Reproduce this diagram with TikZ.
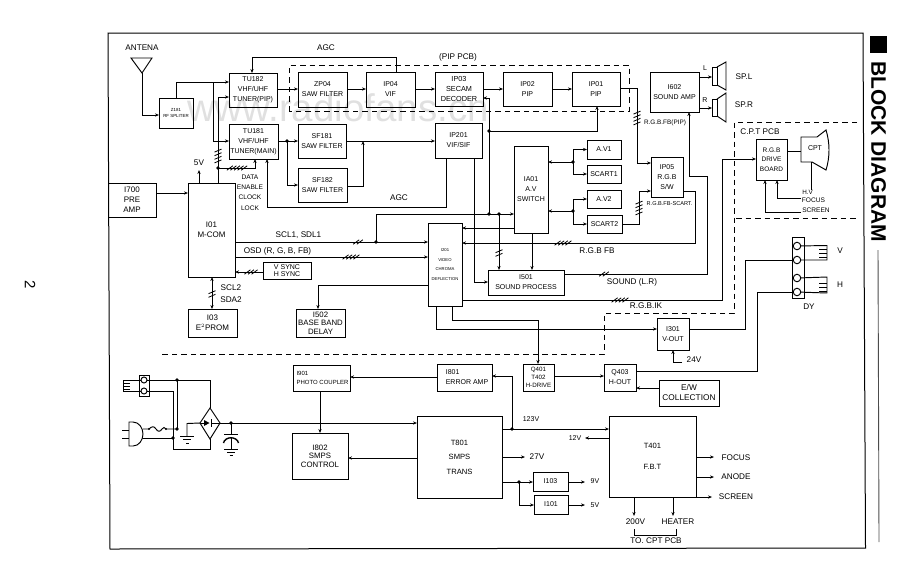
\documentclass[tikz,border=0pt]{standalone}
\usepackage{fontspec}
\setmainfont{Liberation Sans}
\usetikzlibrary{arrows.meta,calc}
\tikzset{
  wire/.style={line width=0.95pt,line join=miter},
  arr/.style={wire,-{Stealth[length=4pt,width=3.2pt]}},
  arrb/.style={wire,{Stealth[length=4pt,width=3.2pt]}-{Stealth[length=4pt,width=3.2pt]}},
  dashline/.style={line width=1pt,dash pattern=on 5.5pt off 4pt},
  tinytxt/.style={font=\fontsize{7}{10}\selectfont,align=center,inner sep=0pt,outer sep=0pt},
  lab/.style={tinytxt,font=\fontsize{8.2}{10}\selectfont},
  block/.style={draw,line width=1pt,tinytxt,inner sep=0pt,outer sep=0pt},
  bigblock/.style={font=\fontsize{8}{10}\selectfont},
  pin/.style={circle,draw,line width=0.95pt,minimum size=7.5pt,inner sep=0pt,outer sep=0pt},
  junct/.style={circle,fill,inner sep=0pt,minimum size=3.8pt}
}
% box given by its corners: name, x1, y1, x2, y2, options, text
\newcommand\blk[7][]{%
  \pgfmathsetmacro\bw{#4-#2}\pgfmathsetmacro\bh{#5-#3}%
  \pgfmathsetmacro\bx{(#4+#2)/2}\pgfmathsetmacro\by{(#5+#3)/2}%
  \node[block,minimum width=\bw pt,minimum height=\bh pt,#1] (#6) at (\bx,\by) {#7};}
% bus ticks across a horizontal or a vertical wire
\newcommand\hticks[3]{\foreach \i in {1,...,#3}{%
  \pgfmathsetmacro\tx{#1+(\i-(#3+1)/2)*3.6}%
  \draw[line width=0.8pt] (\tx-3,#2+2.2) -- (\tx+3,#2-2.2);}}
\newcommand\vticks[3]{\foreach \i in {1,...,#3}{%
  \pgfmathsetmacro\ty{#2+(\i-(#3+1)/2)*3.6}%
  \draw[line width=0.8pt] (#1-3.5,\ty+1.5) -- (#1+3.5,\ty-1.5);}}
\begin{document}
\begin{tikzpicture}[x=1pt,y=-1pt]
\useasboundingbox (0,0) rectangle (920,582);

% site stamp, lying behind the drawing
\node[font=\fontsize{38.5}{38.5}\selectfont,text=black!12,inner sep=0pt] (stamp) at (338,108) {www.radiofans.cn};

% sheet frame and heading
\draw[line width=1pt] (108,33) -- (863,33) -- (865.5,548) -- (110,549) -- cycle;
\fill (870,36) rectangle (887,53);
\node[rotate=-90,font=\bfseries\fontsize{21}{21}\selectfont,inner sep=0pt] (title) at (878.5,151.5) {BLOCK DIAGRAM};
\coordinate (ruleA) at (878,250);
\coordinate (ruleB) at (879,542);
\draw[line width=0.9pt,black!70] (ruleA) -- (ruleB);
\node[rotate=-90,font=\fontsize{15}{15}\selectfont,inner sep=0pt] (pageno) at (30,285) {2};

% board outlines
\draw[dashline] (289,111) -- (289,65) -- (629,65) -- (629,111) -- cycle;
\draw[dashline] (857,122) -- (734,122) -- (734,313) -- (604,313) -- (604,354) -- (162,354);
\draw[dashline] (736,218) -- (857,218);

% blocks of the signal section
\blk[font=\fontsize{4.4}{6.5}\selectfont]{159}{98}{193}{128}{z181}{Z181\\RF SPLITER}
\blk{229}{73}{277}{107}{tu182}{TU182\\VHF/UHF\\TUNER(PIP)}
\blk{229}{124}{278}{159}{tu181}{TU181\\VHF/UHF\\TUNER(MAIN)}
\blk{298}{72}{347}{107}{zp04}{ZP04\\SAW FILTER}
\blk{366}{72}{415}{107}{ip04}{IP04\\VIF}
\blk[font=\fontsize{7.3}{10}\selectfont]{435}{72}{483}{106}{ip03}{IP03\\SECAM\\DECODER}
\blk{503}{72}{552}{106}{ip02}{IP02\\PIP}
\blk{572}{72}{620}{106}{ip01}{IP01\\PIP}
\blk{298}{124}{346}{158}{sf181}{SF181\\SAW FILTER}
\blk{298}{168}{347}{202}{sf182}{SF182\\SAW FILTER}
\blk{435}{123}{482}{158}{ip201}{IP201\\VIF/SIF}
\blk{514}{146}{548}{233}{ia01}{IA01\\A.V\\SWITCH}
\blk{587}{140}{621}{159}{av1}{A.V1}
\blk{587}{165}{621}{183}{scart1}{SCART1}
\blk{587}{190}{621}{208}{av2}{A.V2}
\blk{587}{215}{622}{233}{scart2}{SCART2}
\blk{651}{157}{683}{197}{ip05}{IP05\\R.G.B\\S/W}
\blk{650}{72}{699}{112}{i602}{I602\\SOUND AMP}
\blk[bigblock]{108}{183}{156}{217}{i700}{I700\\PRE\\AMP}
\blk[bigblock]{188}{183}{235}{277}{i01}{I01\\M-COM}
\blk[font=\fontsize{7}{7}\selectfont]{263}{262}{311}{279}{sync}{V SYNC\\H SYNC}
\blk[bigblock]{188}{309}{237}{337}{i03}{I03\\E$^{\scriptscriptstyle 2}$PROM}
\blk[font=\fontsize{7.8}{8.5}\selectfont]{296}{309}{345}{337}{i502}{I502\\BASE BAND\\DELAY}
\blk[font=\fontsize{4.2}{9.5}\selectfont]{428}{223}{462}{306}{i201}{I201\\VIDEO\\CHROMA\\DEFLECTION}
\blk{488}{270}{564}{295}{i501}{I501\\SOUND PROCESS}
\blk[font=\fontsize{6.5}{9.5}\selectfont]{756}{139}{787}{180}{rgbd}{R.G.B\\DRIVE\\BOARD}
\blk{657}{318}{689}{350}{i301}{I301\\V-OUT}
\blk[font=\fontsize{6.2}{8}\selectfont]{523}{364}{554}{391}{q401}{Q401\\T402\\H-DRIVE}
\blk{604}{364}{636}{391}{q403}{Q403\\H-OUT}
\blk[font=\fontsize{8.3}{10}\selectfont]{659}{380}{719}{406}{ew}{E/W\\COLLECTION}

% blocks of the power section
\blk[align=left,font=\fontsize{6}{9.5}\selectfont]{293}{365}{350}{391}{i901}{\hspace*{2pt}I901\\\hspace*{2pt}PHOTO COUPLER}
\blk[align=left]{437}{364}{492}{391}{i801}{\hspace*{5pt}I801\\\hspace*{5pt}ERROR AMP}
\blk[font=\fontsize{7.8}{8.5}\selectfont]{292}{433}{348}{479}{i802}{I802\\SMPS\\CONTROL}
\blk[font=\fontsize{7.6}{14.5}\selectfont]{417}{416}{502}{498}{t801}{T801\\SMPS\\TRANS}
\blk[font=\fontsize{7.6}{21}\selectfont]{609}{416}{696}{497}{t401}{T401\\F.B.T}
\blk{533}{472}{568}{491}{i103}{I103}
\blk{534}{495}{568}{514}{i101}{I101}

% aerial
\coordinate (antfoot) at (142,73);
\draw[wire] (131,58) -- (152,58) -- (antfoot) -- cycle;
\node[lab] (antlabel) at (142,48) {ANTENA};
\draw[arr] (antfoot) |- (z181.west |- 0,115);

% tuner feeds
\coordinate (feedA) at (213,82);
\coordinate (busdot) at (218,168);
\draw[arr] (z181.north) |- (tu182.west |- feedA);
\draw[arr] (feedA) |- (tu181.west |- 0,141);
\draw[wire] (i01.north -| busdot) -- (busdot);
\draw[arr] (busdot) |- (tu182.west |- 0,97);
\draw[arr] (busdot) -| (tu181.south -| 255,0);
\node[junct] (busdotn) at (busdot) {};
\vticks{218}{156}{4}
\hticks{237}{168}{5}
\coordinate (fivev) at (199,170);
\draw[arr] (i01.north -| fivev) -- (fivev);
\node[lab] (l5v) at (199,163) {5V};
\node[tinytxt,font=\fontsize{6.6}{10.2}\selectfont] (ldata) at (250,192.5) {DATA\\ENABLE\\CLOCK\\LOCK};

% top AGC line
\node[lab] (agctop) at (326,48) {AGC};
\draw[arr] (ip04.north -| 396,0) |- (252,57) -- (tu182.north -| 252,0);

% PIP chain
\draw[arr] (tu182.east |- 0,89) -- (zp04.west |- 0,89);
\draw[arr] (zp04.east |- 0,89) -- (ip04.west |- 0,89);
\draw[arr] (ip04.east |- 0,89) -- (ip03.west |- 0,89);
\draw[arr] (ip03.east |- 0,89) -- (ip02.west |- 0,89);
\draw[arr] (ip02.east |- 0,89) -- (ip01.west |- 0,89);
\node[lab] (pippcb) at (458,57) {(PIP PCB)};
\coordinate (pipout) at (637,88);
\draw[arr] (ip01.east |- pipout) -- (pipout) |- (ip05.west |- 0,163);
\vticks{637}{118}{4}
\node[tinytxt,font=\fontsize{6.4}{8}\selectfont] (rgbpip) at (665,123) {R.G.B.FB(PIP)};

% main tuner chain
\coordinate (sawsplit) at (287,141);
\draw[wire] (tu181.east |- sawsplit) -- (sawsplit);
\draw[arr] (sawsplit) -- (sf181.west |- sawsplit);
\draw[arr] (sawsplit) |- (sf182.west |- 0,185);
\node[junct] (sawdot) at (sawsplit) {};
\draw[arr] (sf181.east |- sawsplit) -- (ip201.west |- sawsplit);
\draw[arr] (sf182.east |- 0,186) -| (363,141);
\node[lab] (agcmid) at (399,198) {AGC};
\draw[arr] (ip201.south -| 446,0) |- (267,207) -- (tu181.south -| 267,0);

% control bus and its branches
\coordinate (i2cup) at (376,242);
\coordinate (i2ctop) at (376,214);
\coordinate (pipdot) at (489,214);
\coordinate (snddot) at (499,214);
\draw[arr] (i01.east |- i2cup) -- (i201.west |- i2cup);
\node[junct] (i2cdot) at (i2cup) {};
\draw[arr] (i2cup) -- (i2ctop) -- (ia01.west |- i2ctop);
\draw[arr] (pipdot) |- (ip03.east |- 0,98);
\coordinate (pipjoin) at (489,131);
\draw[arr] (pipjoin) -| (ip01.south -| 597,0);
\draw[arr] (snddot) -- (i501.north -| snddot);
\node[junct] (d1) at (pipdot) {};
\node[junct] (d2) at (snddot) {};
\node[junct] (d3) at (pipjoin) {};
\hticks{358}{242}{2}
\vticks{499}{253}{2}
\node[lab] (lscl) at (298.5,235.5) {SCL1, SDL1};
\draw[arr] (i01.east |- 0,257) -- (i201.west |- 0,257);
\hticks{351}{257}{4}
\node[lab] (losd) at (277.5,251) {OSD (R, G, B, FB)};
\draw[arr] (sync.west |- 0,272) -- (i01.east |- 0,272);
\hticks{251}{272}{3}
\draw[arrb] (i01.south -| 212,0) -- (i03.north -| 212,0);
\vticks{212}{294}{2}
\node[lab] (lscl2) at (231,288) {SCL2};
\node[lab] (lsda2) at (231,300) {SDA2};
\draw[arr] (i700.east |- 0,193) -- (i01.west |- 0,193);
\draw[arr] (i201.west |- 0,285) -| (i502.north -| 318,0);

% A/V switch
\coordinate (av1dot) at (573,162);
\coordinate (av2dot) at (573,211);
\draw[arr] (av1dot) -- (ia01.east |- av1dot);
\draw[arr] (av1dot) |- (av1.west);
\draw[arr] (av1dot) |- (scart1.west);
\node[junct] (d4) at (av1dot) {};
\draw[arr] (av2dot) -- (ia01.east |- av2dot);
\draw[arr] (av2dot) |- (av2.west);
\draw[arr] (av2dot) |- (scart2.west);
\node[junct] (d5) at (av2dot) {};
\draw[arr] (scart2.east) -| (639,191) -- (ip05.west |- 0,191);
\vticks{639}{208}{4}
\node[tinytxt,font=\fontsize{5.6}{8}\selectfont] (lscart) at (669.5,204) {R.G.B.FB-SCART.};
\draw[arr] (ia01.west |- 0,228) -- (i201.east |- 0,228);
\draw[arr] (ia01.south -| 532,0) -- (i501.north -| 532,0);
\draw[arr] (ip201.south -| 474,0) |- (i501.west |- 0,282);
\draw[arr] (ip05.east |- 0,191) -| (695,243) -- (i201.east |- 0,243);
\hticks{563}{243}{4}
\node[lab] (lrgbfb) at (597,251) {R.G.B FB};

% sound path
\draw[arr] (i501.east |- 0,274) -| (707,176) -| (i602.south -| 689,0);
\hticks{604}{274}{2}
\node[lab] (lsound) at (632,282) {SOUND (L.R)};
\blk{712}{67}{717}{85}{spkl}{}
\blk{712}{99}{717}{116}{spkr}{}
\draw[wire] (spkl.north east) -- (726,62) -- (726,90) -- (spkl.south east);
\draw[wire] (spkr.north east) -- (726,93) -- (726,122) -- (spkr.south east);
\draw[arr] (i602.east |- 0,77) -- (spkl.west |- 0,77);
\draw[arr] (i602.east |- 0,108) -- (spkr.west |- 0,108);
\node[tinytxt] (lL) at (705,68) {L};
\node[tinytxt] (lR) at (705,100) {R};
\node[lab] (lspl) at (744,77) {SP.L};
\node[lab] (lspr) at (744,105) {SP.R};

% picture tube board
\node[lab] (lcpt) at (760,131.5) {C.P.T PCB};
\draw[arr] (i201.east |- 0,300) -| (722,159) -- (rgbd.west |- 0,159);
\hticks{620}{300}{4}
\node[lab] (lrgbik) at (646,305.5) {R.G.B.IK};
\draw[wire] (801,137) -- (817,137) -- (826,130) .. controls (830,143) and (830,157) .. (826,170) -- (812,162) -- (801,162) -- cycle;
\node[tinytxt] (cpt) at (815,148) {CPT};
\draw[wire] (rgbd.east |- 0,151) -- (801,151);
\coordinate (hvend) at (811,190);
\draw[wire] (811,162) -- (hvend);
\node[tinytxt,font=\fontsize{6.3}{8}\selectfont] (lhv) at (807.5,192.5) {H.V};
\node[tinytxt,font=\fontsize{6.6}{8}\selectfont] (lfocus) at (813.5,200) {FOCUS};
\node[tinytxt,font=\fontsize{6.6}{8}\selectfont] (lscreen) at (816,210) {SCREEN};
\draw[arr] (801,198) -| (rgbd.south -| 777,0);
\draw[arr] (801,212) -| (rgbd.south -| 765,0);

% deflection yoke
\blk{792}{237}{804}{298}{dy}{}
\node[pin] (p1) at (797,246) {};
\node[pin] (p2) at (797,260) {};
\node[pin] (p3) at (797,278) {};
\node[pin] (p4) at (797,292) {};
\draw[wire] (p1) -- (827,245.5) -- (827,260) -- (p2);
\draw[wire] (819,249) -- (827,249) (819,253) -- (827,253) (819,257) -- (827,257);
\draw[wire] (p3) -- (827,277) -- (827,293) -- (p4);
\draw[wire] (819,283) -- (827,283) (819,287) -- (827,287) (819,291) -- (827,291);
\node[lab] (lv) at (840,251) {V};
\node[lab] (lh) at (840,285) {H};
\node[lab] (ldy) at (809,307) {DY};
\draw[wire] (i301.east |- 0,329) -| (745,260) -- (p2);
\draw[wire] (q403.east |- 0,371) -| (757,292) -- (p4);

% outputs of the deflection chip
\draw[arr] (i201.south -| 452,0) |- (538,320) -- (q401.north -| 538,0);
\draw[arr] (i201.south -| 436,0) |- (i301.west |- 0,329);
\coordinate (supply) at (682,362);
\draw[arr] (supply) -| (i301.south -| 673,0);
\node[lab] (l24) at (694,360) {24V};
\draw[arr] (q401.east |- 0,376) -- (q403.west |- 0,376);
\draw[arr] (ew.west |- 0,388) -- (q403.east |- 0,388);

% mains input
\blk{139}{375}{149}{396}{ac}{}
\node[pin,minimum size=6pt] (ac1) at (144,380) {};
\node[pin,minimum size=6pt] (ac2) at (144,391) {};
\draw[wire] (ac1) -- (123,380) -- (123,391) -- (ac2);
\draw[wire] (123,383) -- (130,383) (123,386) -- (130,386) (123,389) -- (130,389);
\draw[wire] (129,422) -- (133,422) .. controls (139,422) and (143,428) .. (143,434) .. controls (143,440) and (139,446) .. (133,446) -- (129,446) -- cycle;
\draw[wire] (122,430) -- (129,430) (122,438) -- (129,438);
\coordinate (bridgeT) at (210,408);
\coordinate (bridgeB) at (210,439);
\coordinate (bridgeL) at (200,423);
\coordinate (bridgeR) at (220,423);
\draw[wire] (bridgeT) -- (bridgeR) -- (bridgeB) -- (bridgeL) -- cycle;
\fill (204,420) -- (209.5,423) -- (204,426) -- cycle;
\draw[wire] (211,419) -- (211,427);
\draw[wire] (bridgeL) -- (204,423);
\draw[wire] (211,423) -- (bridgeR);
\draw[wire] (ac1) -- (210,380) -- (bridgeT);
\draw[wire] (ac2) -- (173,391) -- (173,449) -| (bridgeB);
\coordinate (topdot) at (177,380);
\coordinate (fusedot) at (177,429);
\coordinate (neutdot) at (173,438);
\draw[wire] (topdot) -- (fusedot);
\draw[wire] (143,429) -- (149,429) .. controls (152,426) and (154,426) .. (156,429) .. controls (158,432) and (160,432) .. (162,429) .. controls (163,427) and (165,427) .. (166,429) -- (fusedot);
\fill (149,429) circle (1.1) (166,429) circle (1.1);
\draw[wire] (143,438) -- (neutdot);
\node[junct] (d6) at (topdot) {};
\node[junct] (d7) at (fusedot) {};
\node[junct] (d8) at (neutdot) {};
\draw[wire] (bridgeL) -- (187,423.5) -- (187,436);
\draw[wire] (180,436) -- (194,436) (183,439.5) -- (191,439.5) (186,443) -- (189,443);
% reservoir capacitor
\coordinate (capdot) at (231,423);
\draw[arr] (bridgeR) -- (capdot) -- (t801.west |- capdot);
\node[junct] (d9) at (capdot) {};
\draw[wire] (capdot) -- (231,434);
\draw[wire] (224,434) -- (238,434);
\draw[line width=1.4pt] (223.5,443) .. controls (225,436) and (237,436) .. (238.5,443);
\draw[wire] (231,437.5) -- (231,449);
\draw[wire] (224,449) -- (238,449) (227,452) -- (235,452) (229.5,455) -- (232.5,455);

% regulation loop
\draw[arr] (i801.west |- 0,377) -- (i901.east |- 0,377);
\draw[arr] (i901.south -| 320,0) -- (i802.north -| 320,0);
\draw[arr] (t801.west |- 0,458) -- (i802.east |- 0,458);
\coordinate (v123) at (512,429);
\draw[arr] (t801.east |- v123) -- (t401.west |- v123);
\node[junct] (d10) at (v123) {};
\draw[arr] (v123) |- (i801.east |- 0,376);
\node[tinytxt] (l123) at (531,419) {123V};
\coordinate (v12) at (585,438);
\draw[arr] (t401.west |- v12) -- (v12);
\node[tinytxt] (l12) at (575,438) {12V};
\coordinate (v27) at (525,457);
\draw[arr] (t801.east |- v27) -- (v27);
\node[lab] (l27) at (537,457) {27V};
\coordinate (regdot) at (519,482);
\draw[arr] (t801.east |- regdot) -- (i103.west |- regdot);
\draw[arr] (regdot) |- (i101.west |- 0,505);
\node[junct] (d11) at (regdot) {};
\coordinate (v9) at (585,482);
\coordinate (v5) at (585,505);
\draw[arr] (i103.east |- v9) -- (v9);
\draw[arr] (i101.east |- v5) -- (v5);
\node[tinytxt] (l9) at (595,481.5) {9V};
\node[tinytxt] (l5) at (595,505) {5V};

% flyback outputs
\node[lab] (lfoc) at (736,457.5) {FOCUS};
\node[lab] (lano) at (736,477) {ANODE};
\node[lab] (lscr) at (736,496.5) {SCREEN};
\draw[arr] (t401.east |- 0,457) -- (714,457);
\draw[arr] (t401.east |- 0,477) -- (714,477);
\draw[arr] (t401.east |- 0,497) -- (712,497);
\coordinate (o200) at (634,516);
\coordinate (oheat) at (673,516);
\draw[arr] (t401.south -| o200) -- (o200);
\draw[arr] (t401.south -| oheat) -- (oheat);
\node[lab] (l200) at (635.5,522) {200V};
\node[lab] (lheat) at (678,522) {HEATER};
\draw[wire] (634,529) -- (634,535) -- (676,535) -- (676,529);
\node[lab] (lto) at (656,540.5) {TO. CPT PCB};
\end{tikzpicture}
\end{document}
